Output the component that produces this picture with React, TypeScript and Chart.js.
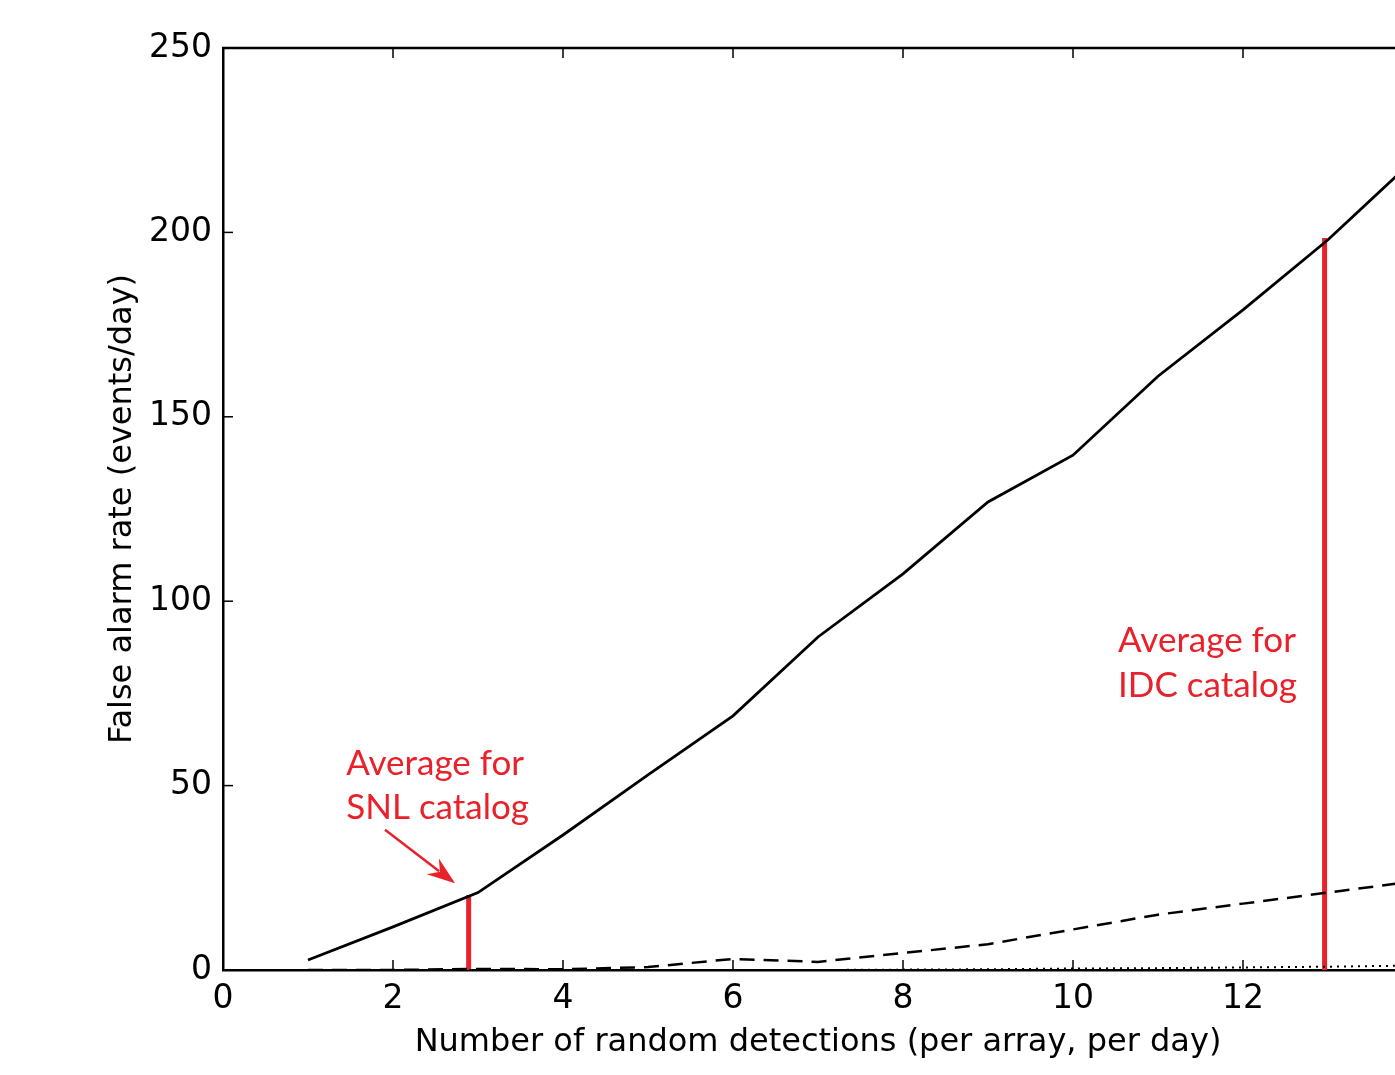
import React, { useEffect, useRef } from "react";
import { Chart, registerables } from "chart.js";

Chart.register(...registerables);

const xValues = [1, 2, 3, 4, 5, 6, 7, 8, 9, 10, 11, 12, 13, 14];
const solidSeries = [2.7, 11.7, 21, 36.6, 52.9, 68.9, 90.3, 107.4, 126.9, 139.6, 161, 179, 198, 219.5];
const dashedSeries = [0, 0, 0.3, 0.2, 0.8, 3, 2.2, 4.6, 7, 11, 15, 18, 21, 24];
const dottedSeries = [0, 0, 0, 0, 0, 0, 0, 0.1, 0.2, 0.4, 0.5, 0.7, 0.9, 1.2];

const snlX = 2.89;
const snlTop = 20.3;
const idcX = 12.96;
const idcTop = 198.5;

const xMax = 14;
const xTicks = [0, 2, 4, 6, 8, 10, 12];
const yTicks = [0, 50, 100, 150, 200, 250];

const snlLabel = ["Average for", "SNL catalog"];
const idcLabel = ["Average for", "IDC catalog"];
const snlLabelPos = { x: 1.45, y1: 52.9, y2: 41.0 };
const idcLabelPos = { x: 10.53, y1: 86.2, y2: 74.0 };
const snlArrow = { x1: 1.906, y1: 38.0, x2: 2.73, y2: 23.5 };

const RED = "#e8212b";

const decorPlugin = {
  id: "decor",
  afterDatasetsDraw(chart: any) {
    const { ctx, chartArea, scales } = chart;
    const xs = scales.x;
    const ys = scales.y;
    ctx.save();
    // top spine
    ctx.strokeStyle = "#000";
    ctx.lineWidth = 2.5;
    ctx.beginPath();
    ctx.moveTo(chartArea.left - 1, chartArea.top);
    ctx.lineTo(chartArea.right, chartArea.top);
    ctx.stroke();
    // inward ticks
    ctx.lineWidth = 1.5;
    const tl = 10;
    for (const v of xTicks) {
      if (v === 0) continue;
      const px = xs.getPixelForValue(v);
      ctx.beginPath();
      ctx.moveTo(px, chartArea.bottom);
      ctx.lineTo(px, chartArea.bottom - tl);
      ctx.moveTo(px, chartArea.top);
      ctx.lineTo(px, chartArea.top + tl);
      ctx.stroke();
    }
    for (const v of yTicks) {
      if (v === 0 || v === 250) continue;
      const py = ys.getPixelForValue(v);
      ctx.beginPath();
      ctx.moveTo(chartArea.left, py);
      ctx.lineTo(chartArea.left + tl, py);
      ctx.stroke();
    }
    // annotations
    ctx.fillStyle = RED;
    ctx.font = "35px Lato";
    ctx.textAlign = "left";
    ctx.textBaseline = "alphabetic";
    ctx.fillText(snlLabel[0], xs.getPixelForValue(snlLabelPos.x), ys.getPixelForValue(snlLabelPos.y1));
    ctx.fillText(snlLabel[1], xs.getPixelForValue(snlLabelPos.x), ys.getPixelForValue(snlLabelPos.y2));
    ctx.fillText(idcLabel[0], xs.getPixelForValue(idcLabelPos.x), ys.getPixelForValue(idcLabelPos.y1));
    ctx.fillText(idcLabel[1], xs.getPixelForValue(idcLabelPos.x), ys.getPixelForValue(idcLabelPos.y2));
    // arrow
    const ax1 = xs.getPixelForValue(snlArrow.x1);
    const ay1 = ys.getPixelForValue(snlArrow.y1);
    const ax2 = xs.getPixelForValue(snlArrow.x2);
    const ay2 = ys.getPixelForValue(snlArrow.y2);
    const ang = Math.atan2(ay2 - ay1, ax2 - ax1);
    const hl = 24;
    const hw = 10;
    const bx = ax2 - hl * Math.cos(ang);
    const by = ay2 - hl * Math.sin(ang);
    ctx.strokeStyle = RED;
    ctx.lineWidth = 2.5;
    ctx.beginPath();
    ctx.moveTo(ax1, ay1);
    ctx.lineTo(bx + 4 * Math.cos(ang), by + 4 * Math.sin(ang));
    ctx.stroke();
    ctx.beginPath();
    ctx.moveTo(ax2, ay2);
    ctx.lineTo(bx - hw * Math.sin(ang) - 4 * Math.cos(ang), by + hw * Math.cos(ang) - 4 * Math.sin(ang));
    ctx.lineTo(bx + 5 * Math.cos(ang), by + 5 * Math.sin(ang));
    ctx.lineTo(bx + hw * Math.sin(ang) - 4 * Math.cos(ang), by - hw * Math.cos(ang) - 4 * Math.sin(ang));
    ctx.closePath();
    ctx.fillStyle = RED;
    ctx.fill();
    ctx.restore();
  },
};

export default function App() {
  const ref = useRef<HTMLCanvasElement | null>(null);
  useEffect(() => {
    document.body.style.margin = "0";
    if (!ref.current) return;
    const toPts = (arr: number[]) => arr.map((y, i) => ({ x: xValues[i], y }));
    const chart = new Chart(ref.current, {
      type: "line",
      data: {
        datasets: [
          {
            data: toPts(dottedSeries),
            borderColor: "#000",
            borderWidth: 2,
            borderDash: [2, 5],
            pointRadius: 0,
            tension: 0,
          },
          {
            data: toPts(dashedSeries),
            borderColor: "#000",
            borderWidth: 2.5,
            borderDash: [15, 9],
            pointRadius: 0,
            tension: 0,
          },
          {
            data: toPts(solidSeries),
            borderColor: "#000",
            borderWidth: 2.8,
            pointRadius: 0,
            tension: 0,
          },
          {
            data: [
              { x: snlX, y: 0 },
              { x: snlX, y: snlTop },
            ],
            borderColor: RED,
            borderWidth: 5,
            pointRadius: 0,
          },
          {
            data: [
              { x: idcX, y: 0 },
              { x: idcX, y: idcTop },
            ],
            borderColor: RED,
            borderWidth: 5,
            pointRadius: 0,
          },
        ],
      },
      options: {
        animation: false,
        responsive: true,
        maintainAspectRatio: false,
        layout: { padding: { top: 48, right: 27, left: 0, bottom: 0 } },
        plugins: { legend: { display: false }, tooltip: { enabled: false } },
        scales: {
          x: {
            type: "linear",
            min: 0,
            max: xMax,
            afterFit: (s: any) => {
              s.height = 105;
            },
            afterBuildTicks: (s: any) => {
              s.ticks = xTicks.map((v) => ({ value: v }));
            },
            grid: { display: false, drawTicks: false },
            border: { display: true, color: "#000", width: 2.5 },
            ticks: {
              color: "#000",
              font: { family: "DejaVu Sans", size: 33 },
              padding: 10,
              maxRotation: 0,
            },
            title: {
              display: true,
              text: "Number of random detections (per array, per day)",
              color: "#000",
              font: { family: "DejaVu Sans", size: 32 },
              padding: { top: 0, bottom: 13 },
            },
          },
          y: {
            type: "linear",
            min: 0,
            max: 250,
            afterFit: (s: any) => {
              s.width = 223;
            },
            afterBuildTicks: (s: any) => {
              s.ticks = yTicks.map((v) => ({ value: v }));
            },
            grid: { display: false, drawTicks: false },
            border: { display: true, color: "#000", width: 2.5 },
            ticks: {
              color: "#000",
              font: { family: "DejaVu Sans", size: 33 },
              padding: 11,
            },
            title: {
              display: true,
              text: "False alarm rate (events/day)",
              color: "#000",
              font: { family: "DejaVu Sans", size: 32 },
              padding: { top: 103, bottom: 0 },
            },
          },
        },
      },
      plugins: [decorPlugin],
    });
    return () => chart.destroy();
  }, []);
  return (
    <div style={{ position: "fixed", left: 0, top: 0, width: 1395, height: 1075, overflow: "hidden", background: "#fff" }}>
      <div style={{ position: "absolute", left: 0, top: 0, width: 1440, height: 1075 }}>
        <canvas ref={ref} />
      </div>
    </div>
  );
}
